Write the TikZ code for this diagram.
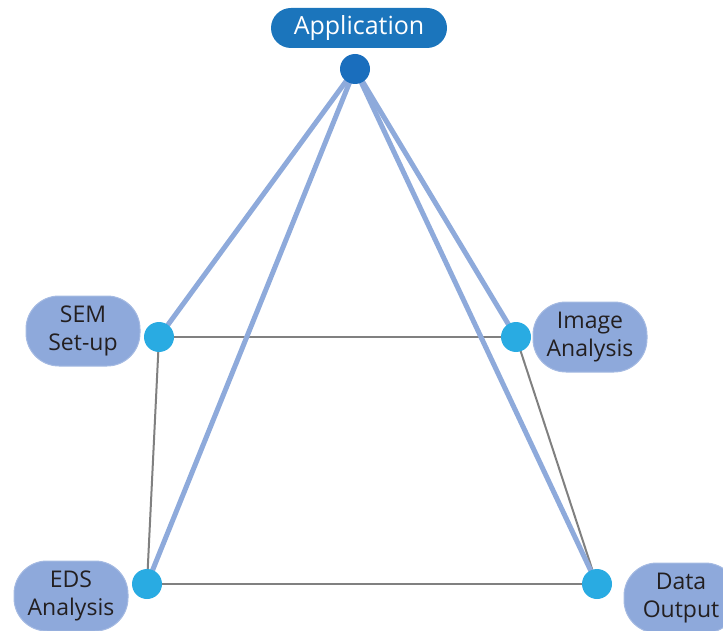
\documentclass[tikz,border=0pt]{standalone}
\usepackage{fontspec}
\setmainfont{Open Sans}
\usetikzlibrary{backgrounds}
\definecolor{appblue}{HTML}{1B75BC}
\definecolor{appdot}{HTML}{1A6EBD}
\definecolor{subdot}{HTML}{29ABE2}
\definecolor{pillblue}{HTML}{8EA9DB}
\definecolor{lineblue}{HTML}{8EAADB}
\definecolor{linegray}{HTML}{808080}
\definecolor{txt}{HTML}{231F20}
\tikzset{
  dotnode/.style={circle, inner sep=0pt, minimum size=30pt},
  pill/.style={fill=pillblue, draw=pillblue!80!white, line width=1pt, rounded corners=33pt,
    minimum width=114pt, minimum height=70pt, align=center, text=txt,
    font=\fontsize{23}{28}\selectfont, inner sep=0pt},
  apppill/.style={fill=appblue, rounded corners=20pt, minimum width=176pt, minimum height=40pt,
    text=white, font=\fontsize{25}{28}\selectfont, inner sep=0pt},
  bluelink/.style={draw=lineblue, line width=5pt},
  graylink/.style={draw=linegray, line width=2pt}
}
\begin{document}
\begin{tikzpicture}[x=1pt,y=-1pt]
\useasboundingbox (0,0) rectangle (723,631);
\clip (0,0) rectangle (723,631);
% labels
\node[apppill] (appl) at (359,28) {Application};
\node[pill] (seml) at (83,331) {SEM\\Set-up};
\node[pill] (imgl) at (590,337) {Image\\Analysis};
\node[pill] (edsl) at (71,596) {EDS\\Analysis};
\node[pill] (datl) at (681,598) {Data\\Output};
% dots
\node[dotnode, fill=appdot] (app) at (355,69) {};
\node[dotnode, fill=subdot] (sem) at (159,337) {};
\node[dotnode, fill=subdot] (img) at (516,337) {};
\node[dotnode, fill=subdot] (eds) at (147,584) {};
\node[dotnode, fill=subdot] (dat) at (597,584) {};
\begin{scope}[on background layer]
\draw[graylink] (sem.center) -- (img.center);
\draw[graylink] (sem.center) -- (eds.center);
\draw[graylink] (eds.center) -- (dat.center);
\draw[graylink] (img.center) -- (dat.center);
\draw[bluelink] (app.center) -- (sem.center);
\draw[bluelink] (app.center) -- (eds.center);
\draw[bluelink] (app.center) -- (img.center);
\draw[bluelink] (app.center) -- (dat.center);
\end{scope}
\end{tikzpicture}
\end{document}
